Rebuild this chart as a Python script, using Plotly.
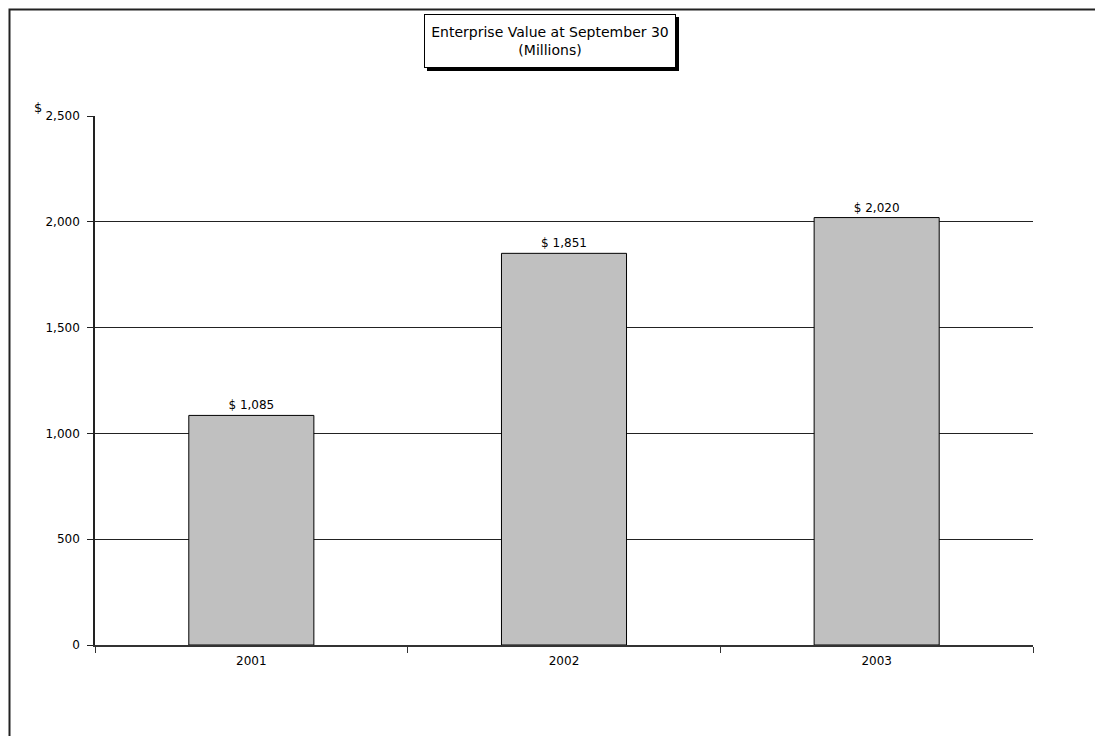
import plotly.graph_objects as go

years = ["2001", "2002", "2003"]
values = [1085, 1851, 2020]
y_ticks = [0, 500, 1000, 1500, 2000, 2500]
grid_vals = [500, 1000, 1500, 2000]

OFF = 8  # page body margin
W, H = 1095, 728
L, R, T, B = 87, 70, 108, 91
PW, PH = W - L - R, H - T - B

def px(x):
    return (x - OFF - L) / PW

def py(y):
    return (H - B - (y - OFF)) / PH

font = "DejaVu Sans"

fig = go.Figure()
fig.add_trace(go.Bar(
    x=years, y=values,
    marker=dict(color="#C0C0C0", line=dict(color="black", width=1)),
    text=values, texttemplate="$ %{y:,}", textposition="outside",
    textfont=dict(family=font, size=12, color="black"),
    cliponaxis=False, width=0.4, showlegend=False, hoverinfo="skip",
))
fig.add_trace(go.Scatter(x=years, y=[None] * 3, yaxis="y2", showlegend=False, hoverinfo="skip"))

fig.update_layout(
    width=W, height=H,
    margin=dict(l=L, r=R, t=T, b=B),
    paper_bgcolor="white", plot_bgcolor="rgba(0,0,0,0)",
    font=dict(family=font, size=12, color="black"),
    xaxis=dict(
        type="category", tickson="boundaries", ticks="outside", ticklen=6,
        tickcolor="#333", showline=True, linecolor="#333", linewidth=2,
        showgrid=False, tickfont=dict(family=font, size=12),
        range=[-0.5, 2.5], ticklabelstandoff=4,
    ),
    yaxis=dict(
        range=[0, 2500], tickvals=y_ticks, tickformat=",", ticks="outside",
        ticklen=6, tickcolor="#222", showline=True, linecolor="#222",
        linewidth=1.5, showgrid=False, zeroline=False,
        tickfont=dict(family=font, size=12), layer="above traces",
        ticklabelstandoff=5,
    ),
    yaxis2=dict(
        range=[0, 2500], overlaying="y", tickvals=grid_vals, showgrid=True,
        gridcolor="#222", gridwidth=1, showticklabels=False, ticks="",
        zeroline=False, showline=False, layer="below traces",
    ),
    shapes=[
        dict(type="rect", xref="paper", yref="paper",
             x0=px(OFF + 1.5), x1=px(1130), y0=py(760), y1=py(OFF + 1.5),
             line=dict(color="#222", width=2), fillcolor="rgba(0,0,0,0)"),
        dict(type="rect", xref="paper", yref="paper",
             x0=px(427), x1=px(679), y0=py(71), y1=py(17),
             line=dict(width=0), fillcolor="black"),
    ],
    annotations=[
        dict(xref="paper", yref="paper", x=px(550), y=py(41),
             text="Enterprise Value at September 30<br>(Millions)",
             showarrow=False, align="center", xanchor="center", yanchor="middle",
             font=dict(family=font, size=14, color="black"),
             bgcolor="white", bordercolor="black", borderwidth=1,
             width=250, height=52, borderpad=0),
        dict(xref="paper", yref="paper", x=px(38), y=py(107),
             text="$", showarrow=False, xanchor="center", yanchor="middle",
             font=dict(family=font, size=13, color="black")),
    ],
)

fig.write_html("out.html")
